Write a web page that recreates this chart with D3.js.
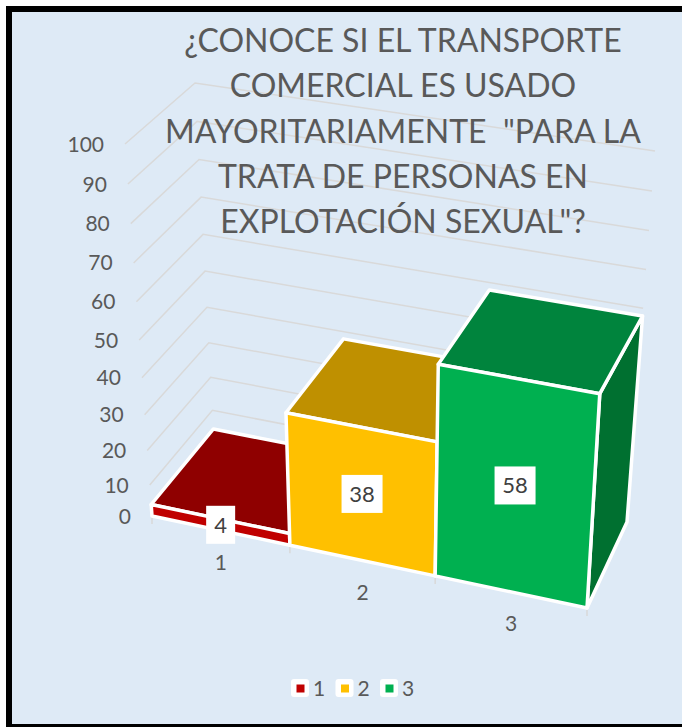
<!DOCTYPE html>
<html lang="en">
<head>
    <meta charset="UTF-8">
    <title>Transporte comercial</title>
    <script src="https://d3js.org/d3.v7.min.js"></script>
    <style>
        body {
            margin: 0;
            padding: 0;
            background: #fff;
        }

        svg {
            display: block;
            font-family: Lato, "Open Sans", sans-serif;
        }
    </style>
</head>
<body>
<svg id="chart" width="682" height="727"></svg>

<script>
    // Data
    var categories = ["1", "2", "3"];
    var values = [4, 38, 58];
    var valueTicks = [0, 10, 20, 30, 40, 50, 60, 70, 80, 90, 100];
    var titleLines = [
        "¿CONOCE SI EL TRANSPORTE",
        "COMERCIAL ES USADO",
        "MAYORITARIAMENTE  \"PARA LA",
        "TRATA DE PERSONAS EN",
        "EXPLOTACIÓN SEXUAL\"?"
    ];
    var frontColors = ["#c00000", "#ffc000", "#00b050"];
    var topColors = ["#8f0000", "#bf9000", "#00843d"];
    var sideColors = ["#700000", "#8f6c00", "#007030"];

    var svg = d3.select("#chart");

    // Frame
    svg.append("rect").attr("x", 6).attr("y", 6).attr("width", 690).attr("height", 718)
        .attr("rx", 2)
        .attr("fill", "#deeaf6");
    svg.append("path")
        .attr("d", "M9,727V9H682")
        .attr("fill", "none").attr("stroke", "#000").attr("stroke-width", 6);
    svg.append("rect").attr("x", 6).attr("y", 724).attr("width", 676).attr("height", 3)
        .attr("fill", "#000");

    // Perspective is faked with scales: height and category position are
    // slightly warped, then each corner of the box gets its own track
    var heightScale = d3.scalePow().exponent(1.08).domain([0, 100]).range([0, 1]);
    var catScale = d3.scaleLinear().domain([0, 1, 2, 3]).range([0, 0.317, 0.651, 1]);

    var corners = {
        frontLeft: { x: d3.scaleLinear().range([152, 125]), y: d3.scaleLinear().range([516, 144]) },
        frontRight: { x: d3.scaleLinear().range([587, 610]), y: d3.scaleLinear().range([608, 222]) },
        backLeft: { x: d3.scaleLinear().range([214, 195]), y: d3.scaleLinear().range([440, 83]) },
        backRight: { x: d3.scaleLinear().range([627, 655]), y: d3.scaleLinear().range([522, 151]) }
    };

    // c = category position (0..3), depth = 0 front / 1 back, v = value
    function project(c, depth, v) {
        var u = catScale(c), h = heightScale(v);
        function at(k) {
            var front = d3.interpolateNumber(corners.frontLeft[k](h), corners.frontRight[k](h))(u);
            var back = d3.interpolateNumber(corners.backLeft[k](h), corners.backRight[k](h))(u);
            return d3.interpolateNumber(front, back)(depth);
        }
        return [at("x"), at("y")];
    }

    var line = d3.line();

    // Gridlines on the two walls
    svg.append("g").selectAll("path")
        .data(valueTicks.slice(1))
        .enter().append("path")
        .attr("d", function(d) {
            return line([project(0, 0, d), project(0, 1, d), project(3, 1, d)]);
        })
        .attr("fill", "none")
        .attr("stroke", "#d9d9d9")
        .attr("stroke-width", 1.5);

    // Ticks under the floor edge
    svg.append("g").selectAll("path")
        .data(d3.range(categories.length + 1))
        .enter().append("path")
        .attr("d", function(d) {
            var p = project(d, 0, 0);
            return line([p, [p[0], p[1] + 8]]);
        })
        .attr("stroke", "#d9d9d9")
        .attr("stroke-width", 1.5);

    // Bars, left to right so the taller ones cover the shorter
    var bars = svg.append("g").selectAll("g")
        .data(values)
        .enter().append("g")
        .attr("stroke", "#fff")
        .attr("stroke-width", 3.5)
        .attr("stroke-linejoin", "round");

    bars.append("path") // right side
        .attr("d", function(d, i) {
            return line([project(i + 1, 0, 0), project(i + 1, 1, 0), project(i + 1, 1, d), project(i + 1, 0, d)]) + "Z";
        })
        .attr("fill", function(d, i) { return sideColors[i]; });

    bars.append("path") // top
        .attr("d", function(d, i) {
            return line([project(i, 0, d), project(i, 1, d), project(i + 1, 1, d), project(i + 1, 0, d)]) + "Z";
        })
        .attr("fill", function(d, i) { return topColors[i]; });

    bars.append("path") // front
        .attr("d", function(d, i) {
            return line([project(i, 0, 0), project(i, 0, d), project(i + 1, 0, d), project(i + 1, 0, 0)]) + "Z";
        })
        .attr("fill", function(d, i) { return frontColors[i]; });

    // Value axis labels
    svg.append("g").selectAll("text")
        .data(valueTicks)
        .enter().append("text")
        .attr("x", function(d) { return project(0, 0, d)[0] - 21; })
        .attr("y", function(d) { return project(0, 0, d)[1] + 7.5; })
        .attr("text-anchor", "end")
        .attr("font-size", 21)
        .attr("fill", "#595959")
        .text(function(d) { return d; });

    // Category labels
    svg.append("g").selectAll("text")
        .data(categories)
        .enter().append("text")
        .attr("x", function(d, i) { return project(i + 0.5, 0, 0)[0]; })
        .attr("y", function(d, i) { return project(i + 0.5, 0, 0)[1] + 39; })
        .attr("text-anchor", "middle")
        .attr("font-size", 21)
        .attr("fill", "#595959")
        .text(function(d) { return d; });

    // Data labels on white boxes, centred on the front face
    var labels = svg.append("g").selectAll("g")
        .data(values)
        .enter().append("g")
        .attr("transform", function(d, i) {
            var a = project(i + 0.5, 0, 0), b = project(i + 0.5, 0, d);
            return "translate(" + ((a[0] + b[0]) / 2) + "," + ((a[1] + b[1]) / 2) + ")";
        });

    labels.append("rect")
        .attr("x", function(d) { return d < 10 ? -14.5 : -20.5; })
        .attr("y", -19)
        .attr("width", function(d) { return d < 10 ? 29 : 41; })
        .attr("height", 38)
        .attr("fill", "#fff");

    labels.append("text")
        .attr("y", 8)
        .attr("text-anchor", "middle")
        .attr("font-size", 22)
        .attr("fill", "#404040")
        .text(function(d) { return d; });

    // Title
    svg.append("g").selectAll("text")
        .data(titleLines)
        .enter().append("text")
        .attr("x", 403)
        .attr("y", function(d, i) { return 52 + i * 45.3; })
        .attr("text-anchor", "middle")
        .style("white-space", "pre")
        .attr("font-size", 32)
        .attr("fill", "#595959")
        .text(function(d) { return d; });

    // Legend
    var legendX = d3.scalePoint().domain(categories).range([291, 380]);
    var legend = svg.append("g").selectAll("g")
        .data(categories)
        .enter().append("g")
        .attr("transform", function(d) { return "translate(" + legendX(d) + ",679)"; });

    legend.append("rect")
        .attr("width", 18).attr("height", 18).attr("rx", 3)
        .attr("fill", "#fff");

    legend.append("rect")
        .attr("x", 5.5).attr("y", 5.5)
        .attr("width", 8).attr("height", 8)
        .attr("fill", function(d, i) { return frontColors[i]; });

    legend.append("text")
        .attr("x", 22)
        .attr("y", 17)
        .attr("font-size", 21)
        .attr("fill", "#595959")
        .text(function(d) { return d; });
</script>
</body>
</html>
